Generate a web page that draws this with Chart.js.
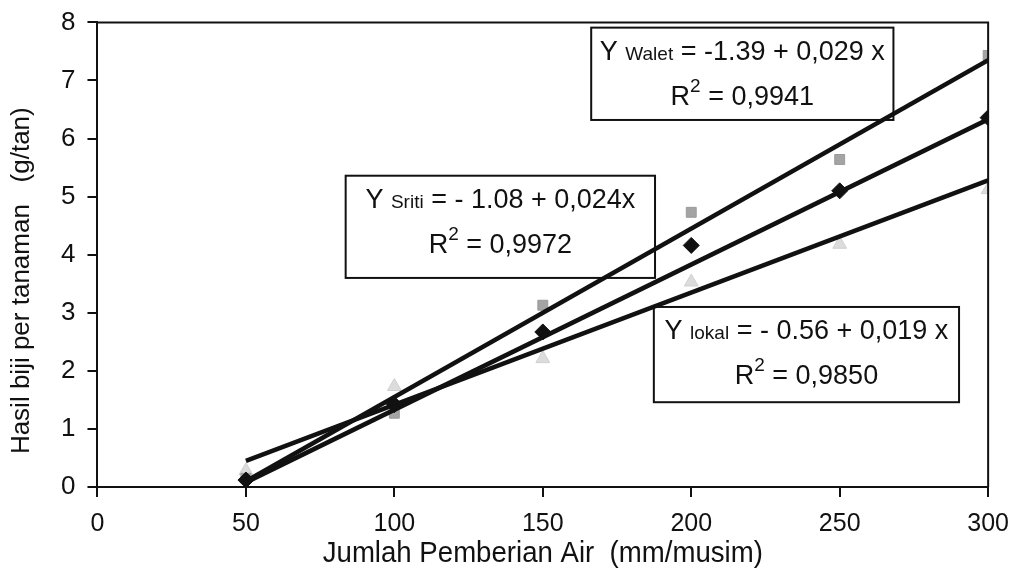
<!DOCTYPE html>
<html>
<head>
<meta charset="utf-8">
<script src="https://cdn.jsdelivr.net/npm/chart.js@4.4.0/dist/chart.umd.min.js"></script>
<style>
  html, body { margin: 0; padding: 0; background: #fff; }
  #wrap { width: 1021px; height: 580px; }
</style>
</head>
<body>
<div id="wrap"><canvas id="chart" width="1021" height="580"></canvas></div>
<script>
// pemberian air (mm/musim)
const airLevels = [50, 100, 150, 200, 250, 300]
const hasilWalet = [0.15, 1.27, 3.13, 4.73, 5.64, 7.43]
const hasilSriti = [0.12, 1.42, 2.67, 4.16, 5.1, 6.36]
const hasilLokal = [0.28, 1.73, 2.21, 3.53, 4.18, 5.12]

// trend line end points
const trendX = [50, 300]
const trendWalet = [0.1, 7.35]
const trendSriti = [0.08, 6.33]
const trendLokal = [0.45, 5.28]

const xTicks = [0, 50, 100, 150, 200, 250, 300]
const yTicks = [0, 1, 2, 3, 4, 5, 6, 7, 8]

const yTitle = 'Hasil biji per tanaman   (g/tan)'
const xTitle = 'Jumlah Pemberian Air  (mm/musim)'

const equations = [
    { name: 'Walet', line: ' = -1.39 + 0,029 x', r2: '0,9941', x0: 166.3, x1: 268.1, y0: 7.91, y1: 6.32 },
    { name: 'Sriti', line: ' = - 1.08 + 0,024x', r2: '0,9972', x0: 83.6, x1: 187.8, y0: 5.36, y1: 3.6 },
    { name: 'lokal', line: ' = - 0.56 + 0,019 x', r2: '0,9850', x0: 187.4, x1: 290.2, y0: 3.1, y1: 1.46 }
]

const pts = (xs, ys) => xs.map((x, i) => ({ x: x, y: ys[i] }))

const FONT = '"Liberation Sans", Arial, sans-serif'

const framePlugin = {
    id: 'frame',
    afterDatasetsDraw(chart) {
        const { ctx, chartArea: a, scales } = chart
        ctx.save()
        ctx.strokeStyle = '#111'
        ctx.lineWidth = 2
        ctx.beginPath()
        ctx.moveTo(a.left, a.top)
        ctx.lineTo(a.right, a.top)
        ctx.lineTo(a.right, a.bottom)
        ctx.stroke()

        // y axis title, a bit below the middle like the scan
        ctx.fillStyle = '#111'
        ctx.font = '26px ' + FONT
        ctx.textAlign = 'center'
        ctx.textBaseline = 'middle'
        ctx.save()
        ctx.translate(22, (a.top + a.bottom) / 2 + 26)
        ctx.rotate(-Math.PI / 2)
        ctx.fillText(yTitle, 0, 0)
        ctx.restore()

        // x axis title, condensed a little
        ctx.save()
        ctx.font = '30px ' + FONT
        ctx.translate((a.left + a.right) / 2, 554)
        ctx.scale(0.92, 1)
        ctx.fillText(xTitle, 0, 0)
        ctx.restore()

        equations.forEach(eq => {
            const l = scales.x.getPixelForValue(eq.x0)
            const r = scales.x.getPixelForValue(eq.x1)
            const t = scales.y.getPixelForValue(eq.y0)
            const b = scales.y.getPixelForValue(eq.y1)
            ctx.lineWidth = 2
            ctx.strokeStyle = '#111'
            ctx.strokeRect(l, t, r - l, b - t)

            const cx = (l + r) / 2
            ctx.fillStyle = '#111'
            ctx.textBaseline = 'middle'
            ctx.textAlign = 'left'

            // first line: Y name = ...
            const big = '27px ' + FONT
            const small = '19px ' + FONT
            ctx.font = big
            const wY = ctx.measureText('Y ').width
            const wL = ctx.measureText(eq.line).width
            ctx.font = small
            const wN = ctx.measureText(eq.name).width
            let x = cx - (wY + wN + wL) / 2
            const y1 = t + 25
            ctx.font = big
            ctx.fillText('Y ', x, y1)
            x += wY
            ctx.font = small
            ctx.fillText(eq.name, x, y1 + 2)
            x += wN
            ctx.font = big
            ctx.fillText(eq.line, x, y1)

            // second line: R^2 = ...
            const rest = ' = ' + eq.r2
            ctx.font = big
            const wR = ctx.measureText('R').width
            const wRest = ctx.measureText(rest).width
            ctx.font = small
            const w2 = ctx.measureText('2').width
            x = cx - (wR + w2 + wRest) / 2
            const y2 = t + 70
            ctx.font = big
            ctx.fillText('R', x, y2)
            x += wR
            ctx.font = small
            ctx.fillText('2', x, y2 - 11)
            x += w2
            ctx.font = big
            ctx.fillText(rest, x, y2)
        })
        ctx.restore()
    }
}

const chart = new Chart(document.getElementById('chart').getContext('2d'), {
    type: 'scatter',
    data: {
        datasets: [
            {
                label: 'Walet',
                data: pts(airLevels, hasilWalet),
                pointStyle: 'rect',
                pointRadius: 7,
                backgroundColor: '#a4a4a4',
                borderColor: '#9a9a9a',
                borderWidth: 1,
                order: 2
            },
            {
                label: 'Lokal',
                data: pts(airLevels, hasilLokal),
                pointStyle: 'triangle',
                pointRadius: 8,
                backgroundColor: '#dcdcdc',
                borderColor: '#d0d0d0',
                borderWidth: 1,
                order: 3
            },
            {
                label: 'Trend Walet',
                data: pts(trendX, trendWalet),
                showLine: true,
                borderColor: '#111',
                borderWidth: 4.5,
                pointRadius: 0,
                order: 1
            },
            {
                label: 'Trend Sriti',
                data: pts(trendX, trendSriti),
                showLine: true,
                borderColor: '#111',
                borderWidth: 4.5,
                pointRadius: 0,
                order: 1
            },
            {
                label: 'Trend Lokal',
                data: pts(trendX, trendLokal),
                showLine: true,
                borderColor: '#111',
                borderWidth: 4.5,
                pointRadius: 0,
                order: 1
            },
            {
                label: 'Sriti',
                data: pts(airLevels, hasilSriti),
                pointStyle: 'rectRot',
                pointRadius: 8,
                backgroundColor: '#111',
                borderColor: '#111',
                borderWidth: 1,
                order: 0
            }
        ]
    },
    options: {
        responsive: false,
        animation: false,
        layout: { padding: { left: 49, right: 31, top: 0, bottom: 29 } },
        plugins: {
            legend: { display: false },
            tooltip: { enabled: false }
        },
        scales: {
            x: {
                type: 'linear',
                min: 0,
                max: 300,
                afterBuildTicks: axis => { axis.ticks = xTicks.map(v => ({ value: v })) },
                grid: { drawOnChartArea: false, drawTicks: true, tickLength: 10, color: '#111', lineWidth: 2 },
                border: { display: true, color: '#111', width: 2 },
                ticks: { color: '#111', font: { family: FONT, size: 25 }, padding: 12, maxRotation: 0 }
            },
            y: {
                type: 'linear',
                min: 0,
                max: 8,
                afterBuildTicks: axis => { axis.ticks = yTicks.map(v => ({ value: v })) },
                grid: { drawOnChartArea: false, drawTicks: true, tickLength: 10, color: '#111', lineWidth: 2 },
                border: { display: true, color: '#111', width: 2 },
                ticks: { color: '#111', font: { family: FONT, size: 26, lineHeight: 0.8 }, padding: 12 }
            }
        }
    },
    plugins: [framePlugin]
})
</script>
</body>
</html>
